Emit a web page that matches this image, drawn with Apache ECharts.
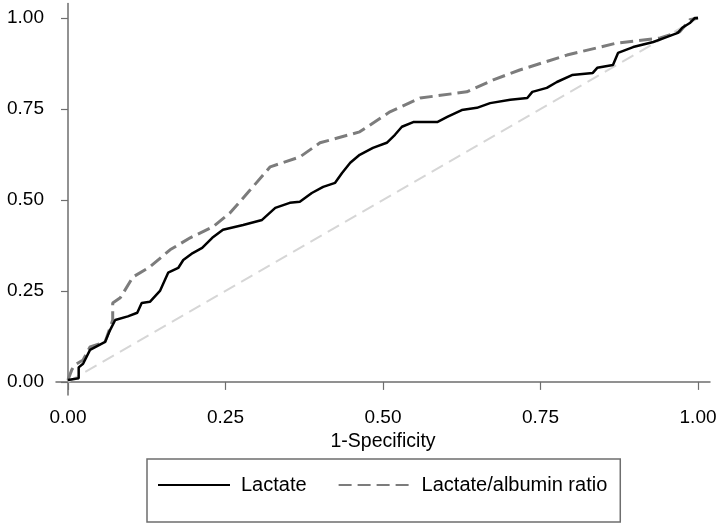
<!DOCTYPE html>
<html>
<head>
<meta charset="utf-8">
<script src="https://cdn.jsdelivr.net/npm/echarts@6/dist/echarts.min.js"></script>
<style>html,body{margin:0;padding:0;background:#fff}#c{width:726px;height:527px}</style>
</head>
<body>
<div id="c"></div>
<script>
// Tick values
const xTicks = [0, 0.25, 0.5, 0.75, 1];
const yTicks = [0, 0.25, 0.5, 0.75, 1];
const seriesNames = ['Lactate', 'Lactate/albumin ratio'];

// Lactate ROC: [1-specificity, sensitivity]
const lactateX = [0,0.017,0.017,0.024,0.035,0.059,0.067,0.075,0.095,0.11,0.117,0.13,0.146,0.159,0.175,0.183,0.198,0.213,0.229,0.246,0.278,0.308,0.329,0.352,0.368,0.387,0.405,0.424,0.435,0.448,0.463,0.484,0.506,0.519,0.53,0.548,0.586,0.602,0.625,0.649,0.67,0.702,0.729,0.737,0.76,0.776,0.8,0.833,0.84,0.865,0.873,0.897,0.929,0.951,0.968,0.975,0.987,0.995,1];
const lactateY = [0.005,0.01,0.04,0.05,0.088,0.11,0.143,0.17,0.18,0.19,0.217,0.22,0.25,0.3,0.313,0.335,0.354,0.368,0.396,0.418,0.431,0.445,0.478,0.492,0.495,0.519,0.536,0.547,0.574,0.602,0.624,0.643,0.657,0.679,0.701,0.714,0.714,0.728,0.747,0.753,0.766,0.775,0.78,0.797,0.808,0.824,0.843,0.849,0.863,0.871,0.904,0.92,0.934,0.948,0.959,0.973,0.986,1,1];

// Lactate/albumin ratio ROC
const ratioX = [0,0.006,0.011,0.024,0.035,0.059,0.071,0.071,0.083,0.103,0.13,0.162,0.194,0.23,0.257,0.289,0.321,0.368,0.4,0.463,0.511,0.559,0.633,0.675,0.717,0.792,0.871,0.94,0.971,0.987,1];
const ratioY = [0.005,0.033,0.047,0.06,0.096,0.11,0.17,0.217,0.231,0.288,0.316,0.363,0.396,0.426,0.464,0.527,0.591,0.618,0.657,0.687,0.742,0.78,0.797,0.83,0.857,0.898,0.931,0.945,0.962,0.995,1];

// Reference line
const refX = [0, 1];
const refY = [0, 1];

const zip = (a, b) => a.map((v, i) => [v, b[i]]);
const font = 'Liberation Sans, Arial, sans-serif';

const chart = echarts.init(document.getElementById('c'), null, {renderer: 'canvas'});
chart.setOption({
  animation: false,
  backgroundColor: '#fff',
  grid: {left: 56, right: 16, top: 3.4, bottom: 132, containLabel: false},
  xAxis: {
    type: 'value', min: -0.019, max: 1.019,
    name: '1-Specificity', nameLocation: 'middle', nameGap: 32,
    nameTextStyle: {fontFamily: font, fontSize: 19.5, color: '#000'},
    axisLine: {show: true, lineStyle: {color: '#6e6e6e', width: 1.5}},
    axisTick: {show: true, length: 8, lineStyle: {color: '#6e6e6e', width: 1.2}, customValues: xTicks},
    axisLabel: {fontFamily: font, fontSize: 19, color: '#000', margin: 13,
      customValues: xTicks, formatter: v => v.toFixed(2)},
    splitLine: {show: false}
  },
  yAxis: {
    type: 'value', min: -0.036, max: 1.04,
    axisLine: {show: true, lineStyle: {color: '#6e6e6e', width: 1.5}},
    axisTick: {show: true, length: 7, lineStyle: {color: '#6e6e6e', width: 1.2}, customValues: yTicks},
    axisLabel: {fontFamily: font, fontSize: 19, color: '#000', margin: 12,
      customValues: yTicks, formatter: v => v.toFixed(2)},
    splitLine: {show: false}
  },
  legend: {
    data: seriesNames,
    left: 147, top: 459,
    orient: 'horizontal',
    padding: [16, 13, 27, 10],
    itemWidth: 72, itemHeight: 20, itemGap: 31,
    borderColor: '#6e6e6e', borderWidth: 1.5,
    itemStyle: {opacity: 0},
    textStyle: {fontFamily: font, fontSize: 20, color: '#000', padding: [0, 0, 0, 6]}
  },
  series: [
    {
      name: 'ref', type: 'line', data: zip(refX, refY), showSymbol: false, symbol: 'none',
      lineStyle: {color: '#d6d6d6', width: 2, type: [13, 7]}, z: 1, silent: true
    },
    {
      name: seriesNames[1], type: 'line', data: zip(ratioX, ratioY), showSymbol: false, symbol: 'none',
      lineStyle: {color: '#7c7c7c', width: 3, type: [13, 6]}, itemStyle: {color: '#7c7c7c'}, z: 2
    },
    {
      name: seriesNames[0], type: 'line', data: zip(lactateX, lactateY), showSymbol: false, symbol: 'none',
      lineStyle: {color: '#000', width: 2.5}, itemStyle: {color: '#000'}, z: 3
    }
  ]
});
</script>
</body>
</html>
